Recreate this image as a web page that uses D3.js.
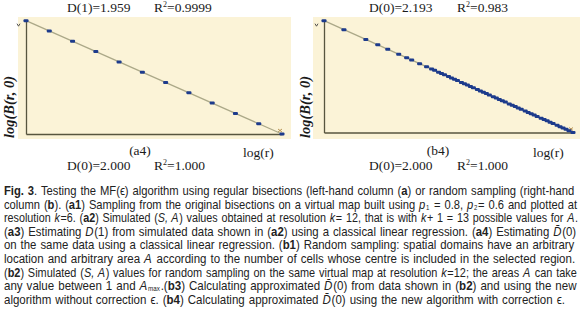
<!DOCTYPE html>
<html>
<head>
<meta charset="utf-8">
<script src="https://cdn.jsdelivr.net/npm/d3@7"></script>
<style>
  body { margin: 0; background: #fff; }
  svg { display: block; }
  .serif { font-family: "Liberation Serif", "Times New Roman", serif; fill: #1a1a1a; }
  .cap { font-family: "Liberation Sans Narrow", "Arial Narrow", "Liberation Sans", Arial, sans-serif; font-size: 12px; fill: #222; }
</style>
</head>
<body>
<div id="chart"></div>
<script>
// Chart size
const width = 580, height = 322;

// (a4) regular bisections: log(r) vs log(B(r,0))
const logRA = [0, 1, 2, 3, 4, 5, 6, 7, 8, 9, 10, 11];
const logBA = [22, 20, 18, 16, 14, 12, 10, 8, 6, 4, 2, 0];
const fitA = { intercept: 22, slope: -2 };

// (b4) random sampling: log(r) vs log(B(r,0))
const logRB = [0, 0.20, 0.42, 0.54, 0.64, 0.75, 0.83, 0.88, 0.96, 1.03,
  1.08, 1.11, 1.15, 1.18, 1.21, 1.25, 1.28, 1.31, 1.34, 1.38, 1.41, 1.44,
  1.47, 1.50, 1.54, 1.57, 1.60, 1.63, 1.66, 1.70, 1.73, 1.76, 1.79, 1.82,
  1.86, 1.89, 1.92, 1.95, 1.98, 2.02, 2.05, 2.08, 2.11, 2.14, 2.18, 2.21,
  2.24, 2.27, 2.30, 2.34, 2.37, 2.40, 2.43, 2.46, 2.50];
const logBB = [5.00, 4.60, 4.16, 3.92, 3.72, 3.50, 3.34, 3.24, 3.08, 2.94,
  2.84, 2.78, 2.70, 2.64, 2.58, 2.50, 2.44, 2.38, 2.32, 2.24, 2.18, 2.12,
  2.06, 2.00, 1.92, 1.86, 1.80, 1.74, 1.68, 1.60, 1.54, 1.48, 1.42, 1.36,
  1.28, 1.22, 1.16, 1.10, 1.04, 0.96, 0.90, 0.84, 0.78, 0.72, 0.64, 0.58,
  0.52, 0.46, 0.40, 0.32, 0.26, 0.20, 0.14, 0.08, 0.00];
const fitB = { intercept: 5, slope: -2 };

// Panel texts
const topA = ["D(1)=1.959", "0.9999"], botA = ["D(0)=2.000", "1.000"];
const topB = ["D(0)=2.193", "0.983"], botB = ["D(0)=2.000", "1.000"];

// Caption lines (**bold**, _italic_, ~subscript~)
const captionLines = [
  "**Fig. 3**. Testing the MF(ϵ) algorithm using regular bisections (left-hand column (**a**) or random sampling (right-hand",
  "column (**b**). (**a1**) Sampling from the original bisections on a virtual map built using _p_~1~ = 0.8, _p_~2~= 0.6 and plotted at",
  "resolution _k_=6. (**a2**) Simulated (_S, A_) values obtained at resolution _k_= 12, that is with _k_+ 1 = 13 possible values for _A_.",
  "(**a3**) Estimating _D_(1) from simulated data shown in (**a2**) using a classical linear regression. (**a4**) Estimating _D̄_(0)",
  "on the same data using a classical linear regression. (**b1**) Random sampling: spatial domains have an arbitrary",
  "location and arbitrary area _A_ according to the number of cells whose centre is included in the selected region.",
  "(**b2**) Simulated (_S, A_) values for random sampling on the same virtual map at resolution _k_=12; the areas _A_ can take",
  "any value between 1 and _A_~max~.(**b3**) Calculating approximated _D̄_(0) from data shown in (**b2**) and using the new",
  "algorithm without correction ϵ. (**b4**) Calculating approximated _D̄_(0) using the new algorithm with correction ϵ."
];

const cream = "#fbf3d7", fitColor = "#aba888", dotColor = "#1d3b8c", axisColor = "#57553f";

const svg = d3.select("#chart").append("svg")
    .attr("width", width)
    .attr("height", height);

// Draw one regression panel
function drawPanel(p) {
    svg.append("rect")
        .attr("x", p.bg[0]).attr("y", 17)
        .attr("width", p.bg[1] - p.bg[0]).attr("height", 122)
        .attr("fill", cream);

    const x = d3.scaleLinear().domain(d3.extent(p.xs)).range(p.xr);
    const y = d3.scaleLinear().domain(d3.extent(p.ys)).range(p.yr);

    // axes without ticks
    const gx = svg.append("g").attr("transform", `translate(0,${p.yr[0]})`)
        .call(d3.axisBottom(x).tickValues([]).tickSizeOuter(0));
    const gy = svg.append("g").attr("transform", `translate(${p.xr[0]},0)`)
        .call(d3.axisLeft(y).tickValues([]).tickSizeOuter(0));
    [gx, gy].forEach(g => g.select(".domain").attr("stroke", axisColor).attr("stroke-width", 1.3));

    // small arrow marks at axis ends
    svg.append("path")
        .attr("d", `M${p.xr[0] - 9},${p.yr[1] + 3} l1.5,2.5 l1.5,-2.5`)
        .attr("fill", "none").attr("stroke", "#444").attr("stroke-width", 0.9);
    svg.append("path")
        .attr("d", `M${p.xr[1] - 4},${p.yr[0] - 5} l4,3 M${p.xr[1] - 4},${p.yr[0] - 2} l4,-3`)
        .attr("fill", "none").attr("stroke", "#b08a4a").attr("stroke-width", 0.9);

    // regression line
    const x0 = x.domain()[0], x1 = x.domain()[1];
    svg.append("line")
        .attr("x1", x(x0)).attr("y1", y(p.fit.intercept + p.fit.slope * x0))
        .attr("x2", x(x1)).attr("y2", y(p.fit.intercept + p.fit.slope * x1))
        .attr("stroke", fitColor).attr("stroke-width", 1.3);

    // points
    svg.append("g").selectAll("rect")
        .data(p.xs.map((d, i) => [d, p.ys[i]]))
        .join("rect")
        .attr("x", d => x(d[0]) - 2.5)
        .attr("y", d => y(d[1]) - 1.5)
        .attr("width", 5).attr("height", 3)
        .attr("rx", 1)
        .attr("fill", dotColor);

    // labels
    const fs = 13.5;
    svg.append("text").attr("class", "serif").attr("font-size", fs)
        .attr("x", p.tx[0]).attr("y", 12).text(p.top[0]);
    const r1 = svg.append("text").attr("class", "serif").attr("font-size", fs)
        .attr("x", p.tx[1]).attr("y", 12);
    r1.append("tspan").text("R");
    r1.append("tspan").attr("font-size", 8).attr("dy", -5).text("2");
    r1.append("tspan").attr("dy", 5).text("=" + p.top[1]);

    svg.append("text").attr("class", "serif").attr("font-size", fs)
        .attr("x", p.tx[0]).attr("y", 170).text(p.bot[0]);
    const r2 = svg.append("text").attr("class", "serif").attr("font-size", fs)
        .attr("x", p.tx[1]).attr("y", 170);
    r2.append("tspan").text("R");
    r2.append("tspan").attr("font-size", 8).attr("dy", -5).text("2");
    r2.append("tspan").attr("dy", 5).text("=" + p.bot[1]);

    svg.append("text").attr("class", "serif").attr("font-size", fs)
        .attr("x", p.tag[0]).attr("y", 155).attr("text-anchor", "middle").text(p.tag[1]);
    svg.append("text").attr("class", "serif").attr("font-size", fs)
        .attr("x", p.lx).attr("y", 157).text("log(r)");

    svg.append("text").attr("class", "serif")
        .attr("font-size", 14.5).attr("font-style", "italic").attr("font-weight", "bold")
        .attr("transform", `translate(${p.ylx},138) rotate(-90)`)
        .text("log(B(r, 0)");
}

drawPanel({
    bg: [18, 291], xs: logRA, ys: logBA, fit: fitA,
    xr: [26, 282], yr: [134, 20.7],
    top: topA, bot: botA, tx: [67, 154], tag: [140, "(a4)"], lx: 243, ylx: 14
});
drawPanel({
    bg: [313, 580], xs: logRB, ys: logBB, fit: fitB,
    xr: [324, 573], yr: [132.5, 20.7],
    top: topB, bot: botB, tx: [369, 457], tag: [438, "(b4)"], lx: 533, ylx: 310
});

// Caption, each line justified to full width
const capX = 4, capW = 571, capY = 195, capLH = 13.6;
captionLines.forEach((line, i) => {
    const yPos = capY + i * capLH;
    const t = svg.append("text").attr("class", "cap").attr("x", 0).attr("y", 0);
    let prevSlanted = false;
    line.split(/(\*\*[^*]+\*\*|_[^_]+_|~[^~]+~)/).filter(s => s.length).forEach(s => {
        const sp = t.append("tspan");
        if (prevSlanted) sp.attr("dx", 0.8);
        prevSlanted = false;
        if (s.startsWith("**")) sp.attr("font-weight", "bold").text(s.slice(2, -2));
        else if (s.startsWith("_")) {
            sp.attr("font-style", "italic").text(s.slice(1, -1));
            prevSlanted = true;
        } else if (s.startsWith("~")) {
            sp.attr("font-size", 6.5).attr("baseline-shift", -1).text(s.slice(1, -1));
            prevSlanted = true;
        } else sp.text(s);
    });
    const target = i === captionLines.length - 1 ? capW - 10 : capW;
    const natural = t.node().getComputedTextLength();
    const spaces = (line.match(/ /g) || []).length;
    let sx = 1;
    if (natural > target - spaces * 0.8) sx = (target - spaces * 0.8) / natural;
    const ws = (target / sx - natural) / spaces;
    t.style("word-spacing", ws + "px")
        .attr("transform", `translate(${capX},${yPos}) scale(${sx},1)`);
});
</script>
</body>
</html>
